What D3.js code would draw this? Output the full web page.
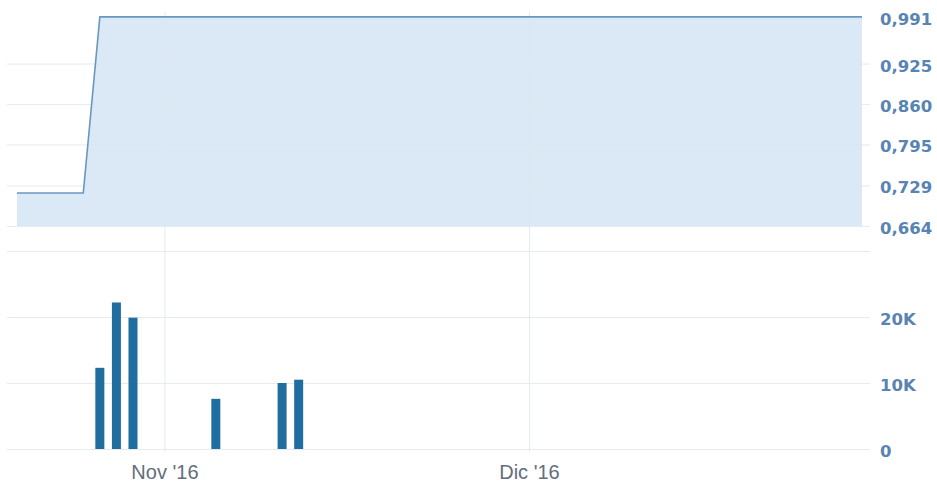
<!DOCTYPE html>
<html>
<head>
<meta charset="utf-8">
<script src="https://cdn.jsdelivr.net/npm/d3@7"></script>
<style>
  body { margin: 0; background: #fff; }
  #chartDiv text { font-family: "Liberation Sans", Arial, sans-serif; }
</style>
</head>
<body>
<div id="chartDiv"></div>
<script>
const w = 937;
const h = 484;

// price series (key points, the price stays flat in between)
const priceDates = ["2016-10-19", "2016-10-25", "2016-10-26", "2016-12-29"];
const priceValues = [0.717, 0.717, 1.0, 1.0];

// volume bars
const volumeDates = ["2016-10-26", "2016-10-27", "2016-10-28", "2016-11-04", "2016-11-10", "2016-11-11"];
const volumeValues = [12300, 22200, 19900, 7600, 10000, 10500];

// tick labels
const priceTicks = [0.664, 0.729, 0.795, 0.860, 0.925, 0.991];
const volumeTicks = [0, 10000, 20000];
const volumeTop = 30000;
const monthTicks = ["2016-11-01", "2016-12-01"];
const monthLabels = ["Nov '16", "Dic '16"];

const parse = d3.timeParse("%Y-%m-%d");
const fmtDay = d3.timeFormat("%Y-%m-%d");

// only trading days on the x axis (weekends are skipped)
const tradingDays = d3.timeDay.range(parse("2016-10-19"), parse("2016-12-30"))
   .filter(d => d.getDay() !== 0 && d.getDay() !== 6)
   .map(fmtDay);
const dayIndex = new Map(tradingDays.map((d, i) => [d, i]));

const xScale = d3.scaleLinear().domain([0, tradingDays.length - 1]).range([17, 862]);
const yPrice = d3.scaleLinear().domain([0.664, 0.991]).range([226, 22.5]);
const yVolume = d3.scaleLinear().domain([0, volumeTop]).range([449, 251]);

const locale = d3.formatLocale({decimal: ",", thousands: ".", grouping: [3], currency: ["€", ""]});
const priceFormat = locale.format(".3f");
const volumeFormat = v => v === 0 ? "0" : (v / 1000) + "K";

const svg = d3.select("#chartDiv")
   .append("svg")
   .attr("width", w)
   .attr("height", h);

const gridColor = "#dfe6ee";

// price area + line
const pricePoints = priceDates.map((d, i) => ({x: dayIndex.get(d), v: priceValues[i]}));

const area = d3.area()
   .x(d => xScale(d.x))
   .y0(yPrice(0.664))
   .y1(d => yPrice(d.v));
const line = d3.line()
   .x(d => xScale(d.x))
   .y(d => yPrice(d.v));

svg.append("path")
   .datum(pricePoints)
   .attr("d", area)
   .attr("fill", "#dbe8f6");

// horizontal grid lines (drawn over the fill, very faint)
svg.append("g")
   .attr("transform", "translate(7,0)")
   .call(d3.axisLeft(yPrice).tickValues(priceTicks.slice(0, -1)).tickSize(-863).tickFormat(""))
   .call(g => g.select(".domain").remove())
   .selectAll("line").attr("stroke", gridColor).attr("stroke-opacity", 0.8);

svg.append("g")
   .attr("transform", "translate(7,0)")
   .call(d3.axisLeft(yVolume).tickValues(volumeTicks.concat([volumeTop])).tickSize(-863).tickFormat(""))
   .call(g => g.select(".domain").remove())
   .selectAll("line").attr("stroke", gridColor).attr("stroke-opacity", 0.8);

// vertical month lines + labels
const monthX = d => xScale(dayIndex.get(d) - 0.1);
const xAxis = d3.axisBottom(d3.scaleIdentity())
   .tickValues(monthTicks.map(monthX))
   .tickSize(-440)
   .tickFormat((d, i) => monthLabels[i]);

svg.append("g")
   .attr("transform", "translate(0,452)")
   .call(xAxis)
   .call(g => g.select(".domain").remove())
   .call(g => g.selectAll("line").attr("stroke", gridColor).attr("stroke-opacity", 0.8))
   .call(g => g.selectAll("text")
      .attr("y", 27)
      .attr("dy", 0)
      .attr("fill", "#646d7b")
      .style("font-size", "20px"));

svg.append("path")
   .datum(pricePoints)
   .attr("d", line)
   .attr("fill", "none")
   .attr("stroke", "#6a97c2")
   .attr("stroke-width", 1.6);

// volume bars
const barW = 9;
svg.selectAll("rect.bar")
   .data(volumeDates.map((d, i) => ({x: dayIndex.get(d), v: volumeValues[i]})))
   .enter()
   .append("rect")
   .attr("class", "bar")
   .attr("fill", "#206d9f")
   .attr("x", d => xScale(d.x) - barW / 2)
   .attr("y", d => yVolume(d.v))
   .attr("width", barW)
   .attr("height", d => yVolume(0) - yVolume(d.v));

// right axes labels
const labelStyle = g => g.call(g => g.select(".domain").remove())
   .call(g => g.selectAll("line").remove())
   .call(g => g.selectAll("text")
      .attr("x", 0)
      .attr("dy", "0.45em")
      .attr("fill", "#5784b3")
      .style("font-family", "'DejaVu Sans', sans-serif")
      .style("font-weight", "bold")
      .style("font-size", "16.5px"));

svg.append("g")
   .attr("transform", "translate(880,0)")
   .call(d3.axisRight(yPrice).tickValues(priceTicks).tickFormat(priceFormat))
   .call(labelStyle)
   .call(g => g.selectAll(".tick")
      .filter(d => d === 0.991)
      .select("text").attr("dy", "0.1em"));

svg.append("g")
   .attr("transform", "translate(880,0)")
   .call(d3.axisRight(yVolume).tickValues(volumeTicks).tickFormat(volumeFormat))
   .call(labelStyle);
</script>
</body>
</html>
